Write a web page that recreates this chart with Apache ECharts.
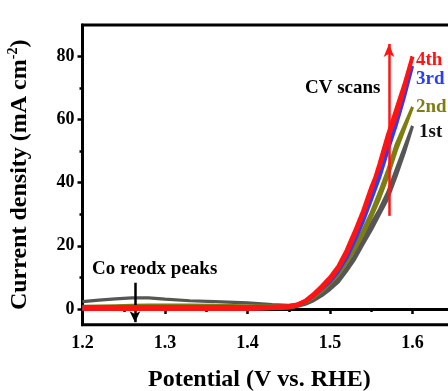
<!DOCTYPE html>
<html><head><meta charset="utf-8">
<script src="https://cdn.jsdelivr.net/npm/echarts@6/dist/echarts.min.js"></script>
<style>html,body{margin:0;padding:0;background:#fff}#c{width:448px;height:391px}</style>
</head><body><div id="c"></div>
<script>
// Potential (V vs. RHE) sampled along the forward sweep; reverse sweep uses same points backward
const potential = [1.20,1.22,1.24,1.26,1.28,1.30,1.33,1.36,1.40,1.43,1.45,1.46,1.47,1.48,1.49,1.50,1.51,1.52,1.53,1.54,1.55,1.56,1.57,1.58,1.59,1.60];
const scan1Fwd = [2.3,2.8,3.2,3.5,3.5,3.1,2.6,2.3,1.9,1.4,1.1,1.3,2.0,3.2,5.0,7.0,9.5,13,17,22,27,31.5,37,44,51,58];
const scan1Rev = [0,0,0,0,0,0,0,0,0,0.2,0.4,0.8,1.5,2.6,4.2,6.2,8.5,12,15.8,20.5,25,30,35,42,49.5,58];
const scan2Fwd = [0.8,0.9,1.0,1.1,1.2,1.2,1.2,1.1,1.0,0.9,0.9,1.3,2.4,4.2,6.2,8.5,11.5,15.5,20,25,30.5,37,44,52,58,64];
const scan2Rev = [0,0,0,0,0,0,0,0,0,0.2,0.4,0.9,2.0,3.6,5.6,8,10.8,14.5,18.8,23.5,29,35,42,50,57,64];
const scan3Fwd = [0.5,0.5,0.5,0.5,0.5,0.5,0.5,0.5,0.5,0.6,0.8,1.4,2.6,4.5,6.8,9,12.5,17,22.5,28.5,35.5,42.5,51,59,68,77];
const scan3Rev = [0,0,0,0,0,0,0,0,0,0.2,0.4,1.0,2.2,4.0,6.2,8.5,11.8,16,21.5,27.5,34.5,41.5,50,58,67,77];
const scan4Fwd = [0.6,0.6,0.6,0.6,0.6,0.6,0.6,0.6,0.6,0.7,0.9,1.4,2.6,4.7,7.2,10,13.5,18.5,24.5,31,38.5,45,54,61,70,80];
const scan4Rev = [0,0,0,0,0,0,0,0,0,0.2,0.5,1.0,2.2,4.2,6.5,9.2,12.8,17.5,23.5,30,37.5,46,55,63,71,80];
const scanNames = ['1st','2nd','3rd','4th'];
const scanColors = ['#565656','#7d7d12','#2b3df5','#ff1414'];
const yMajorTicks = [0,20,40,60,80];
const yMinorTicks = [10,30,50,70];
const cvArrow = [[1.5715,29.5],[1.5715,84]];
const peakArrow = [[1.2636,8.3],[1.2636,-4.2]];

function loop(fwd, rev){
  const pts = potential.map((v,i)=>[v,fwd[i]]);
  for(let i=potential.length-1;i>=0;i--) pts.push([potential[i],rev[i]]);
  return pts;
}
const scans = [loop(scan1Fwd,scan1Rev),loop(scan2Fwd,scan2Rev),loop(scan3Fwd,scan3Rev),loop(scan4Fwd,scan4Rev)];
const F = 'Liberation Serif';
const chart = echarts.init(document.getElementById('c'));
const series = scans.map((d,i)=>({
  type:'line', name:scanNames[i], data:d, showSymbol:false, symbol:'none',
  lineStyle:{color:scanColors[i], width: i===3?4:3.2}, z: 2+i, animation:false
}));
series.push({type:'line', data:[], markLine:{silent:true, animation:false, symbol:['none','arrow'], symbolSize:[8,13],
  label:{show:false}, lineStyle:{type:'solid', width:2.5, color:'#ff1414'},
  data:[[{coord:cvArrow[0]},{coord:cvArrow[1]}]]}});
series.push({type:'line', data:[], markLine:{silent:true, animation:false, symbol:['none','arrow'], symbolSize:[8,11],
  label:{show:false}, lineStyle:{type:'solid', width:2.5, color:'#000'},
  data:[[{coord:peakArrow[0]},{coord:peakArrow[1]}]]}});
const lbl = (t,x,y,c,fs)=>({type:'text', left:x, top:y, style:{text:t, fill:c, font:'bold '+fs+'px "'+F+'"'}, z:10});
chart.setOption({
  animation:false,
  grid:{left:82.5, top:25, right:-47, bottom:66.3, outerBoundsMode:'none', containLabel:false, show:true, borderColor:'#000', borderWidth:3},
  xAxis:{type:'value', min:1.2, max:1.7, interval:0.1,
    axisLine:{lineStyle:{color:'#000', width:3}},
    axisTick:{length:5, lineStyle:{width:2.5, color:'#000'}},
    minorTick:{show:true, splitNumber:2, length:3, lineStyle:{width:2.5, color:'#000'}},
    splitLine:{show:false},
    axisLabel:{color:'#000', fontFamily:F, fontWeight:'bold', fontSize:18, margin:10, formatter:v=>v.toFixed(1)}},
  yAxis:[{type:'value', min:-5, max:90,
    axisLine:{lineStyle:{color:'#000', width:3}},
    axisTick:{length:5, customValues:yMajorTicks, lineStyle:{width:2.5, color:'#000'}},
    splitLine:{show:false},
    axisLabel:{color:'#000', fontFamily:F, fontWeight:'bold', fontSize:18, margin:8, customValues:yMajorTicks},
    name:'{t|Current density (mA cm}{s|-2}{t|)}', nameLocation:'middle', nameGap:50, nameRotate:90,
    nameTextStyle:{rich:{t:{fontFamily:F, fontWeight:'bold', fontSize:24, color:'#000'},
      s:{fontFamily:F, fontWeight:'bold', fontSize:14, color:'#000', padding:[0,0,12,0]}}}},
   {type:'value', min:-5, max:90, position:'left',
    axisLine:{show:false}, axisLabel:{show:false}, splitLine:{show:false},
    axisTick:{length:3, customValues:yMinorTicks, lineStyle:{width:2.5, color:'#000'}}}],
  graphic:[
    {type:'text', left:148, top:368, style:{text:'Potential (V vs. RHE)', fill:'#000', font:'bold 24px "'+F+'"'}},
    lbl('CV scans',305,79,'#000',19),
    lbl('Co reodx peaks',92,260,'#000',19),
    lbl('4th',416,51,scanColors[3],19),
    lbl('3rd',416,70,scanColors[2],19),
    lbl('2nd',416,98,'#7d7d12',19),
    lbl('1st',419,123,'#111',19)
  ],
  series
});
</script></body></html>
